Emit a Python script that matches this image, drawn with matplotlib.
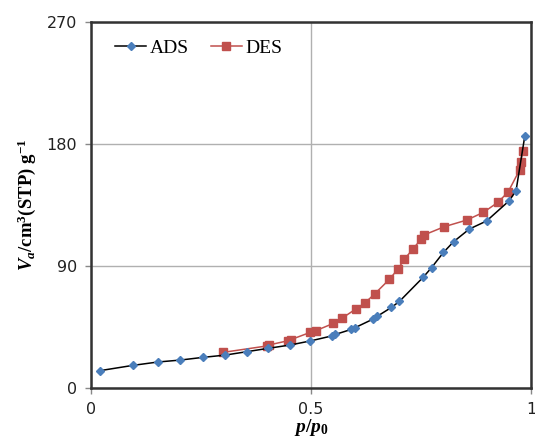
import matplotlib
matplotlib.use('Agg')
import matplotlib.pyplot as plt

# --- data ---
ads_x = [0.020, 0.095, 0.152, 0.202, 0.254, 0.305, 0.354, 0.403, 0.452, 0.498,
         0.547, 0.555, 0.592, 0.600, 0.642, 0.650, 0.683, 0.701, 0.755, 0.774,
         0.801, 0.824, 0.860, 0.899, 0.950, 0.966, 0.986]
ads_y = [12.8, 16.7, 19.2, 20.6, 22.6, 24.3, 26.8, 29.3, 31.7, 34.7,
         38.4, 39.5, 43.3, 44.5, 51.0, 52.8, 59.5, 63.9, 81.7, 88.8,
         100.0, 107.9, 117.3, 123.2, 138.0, 145.5, 186.0]

des_x = [0.300, 0.399, 0.405, 0.448, 0.455, 0.498, 0.511, 0.551, 0.570, 0.602,
         0.623, 0.645, 0.678, 0.697, 0.712, 0.731, 0.750, 0.757, 0.803, 0.854,
         0.892, 0.925, 0.948, 0.974, 0.977, 0.981]
des_y = [26.3, 31.0, 31.8, 34.9, 35.8, 41.0, 42.3, 47.7, 51.4, 58.3,
         62.9, 69.5, 80.1, 87.5, 94.9, 102.3, 109.7, 112.9, 119.0, 123.9,
         129.6, 137.0, 144.6, 160.8, 166.9, 175.0]

x_ticks = [0, 0.5, 1]
x_tick_labels = ['0', '0.5', '1']
y_ticks = [0, 90, 180, 270]


def main():
    plt.rcParams['mathtext.fontset'] = 'custom'
    plt.rcParams['mathtext.rm'] = 'Liberation Serif:bold'
    plt.rcParams['mathtext.it'] = 'Liberation Serif:italic:bold'
    plt.rcParams['mathtext.bf'] = 'Liberation Serif:bold'

    fig = plt.figure(figsize=(5.35, 4.45), dpi=100)
    ax = fig.add_axes([0.170, 0.128, 0.8225, 0.8226])

    ax.plot(des_x, des_y, color='#c0504d', linewidth=1.1, marker='s',
            markersize=6, markerfacecolor='#c0504d', markeredgecolor='#c0504d',
            label='DES', zorder=3)
    ax.plot(ads_x, ads_y, color='black', linewidth=1.1, marker='D',
            markersize=4.5, markerfacecolor='#4a7ebb', markeredgecolor='#4a7ebb',
            label='ADS', zorder=4)

    ax.set_xlim(0, 1)
    ax.set_ylim(0, 270)
    ax.set_xticks(x_ticks)
    ax.set_xticklabels(x_tick_labels)
    ax.set_yticks(y_ticks)
    ax.grid(True, color='#b0b0b0', linewidth=1.0)
    ax.set_axisbelow(True)

    for s in ax.spines.values():
        s.set_linewidth(1.8)
        s.set_color('#333333')
    ax.tick_params(axis='both', direction='out', length=4, width=1,
                   color='#888888', labelsize=11.5, labelcolor='#222222', pad=6)
    for lab in ax.get_xticklabels() + ax.get_yticklabels():
        lab.set_family('DejaVu Sans')

    ax.set_xlabel(r'$\mathit{p/p}_{\mathrm{0}}$', fontsize=14, labelpad=0)
    ax.set_ylabel(r'$\mathit{V_a}\mathrm{/cm^3(STP)\ g^{-1}}$', fontsize=13.5, labelpad=6)

    handles, labels = ax.get_legend_handles_labels()
    ax.legend(handles[::-1], labels[::-1], loc='upper left', ncol=2, frameon=False,
              prop={'family': 'Liberation Serif', 'size': 14},
              handlelength=1.6, handletextpad=0.2, columnspacing=1.1,
              bbox_to_anchor=(0.015, 1.0))

    fig.savefig('out.png', dpi=100)


if __name__ == "__main__":
    main()
